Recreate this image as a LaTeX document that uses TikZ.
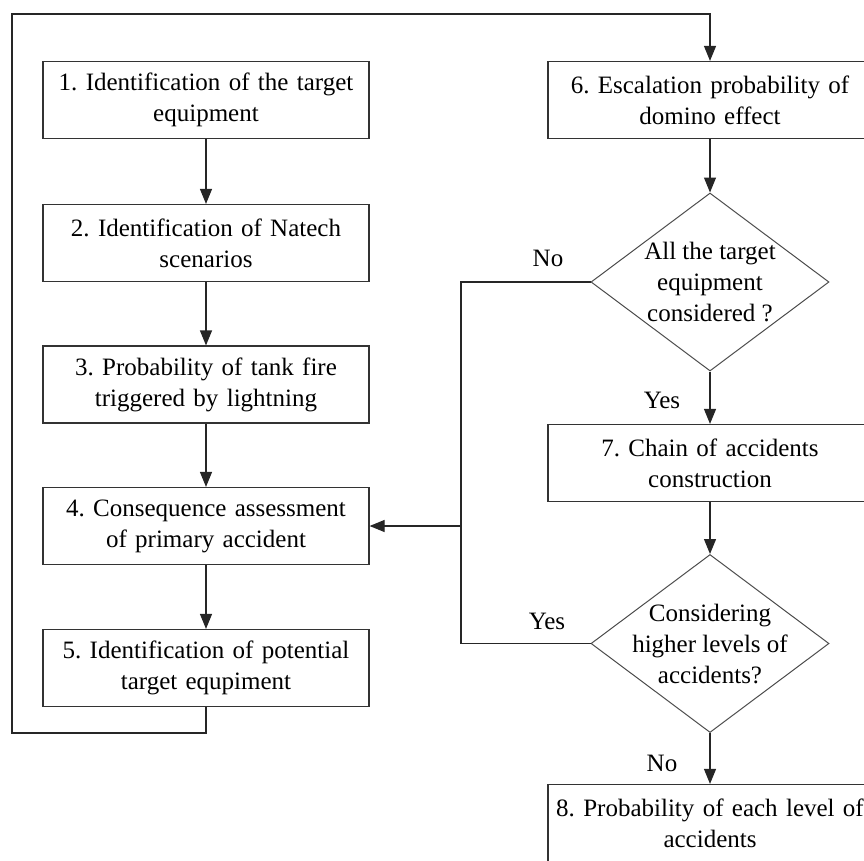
\documentclass[tikz,border=0pt]{standalone}
\usepackage{fontspec}
\setmainfont{Liberation Serif}
\usetikzlibrary{arrows.meta,shapes.geometric}
\frenchspacing
\begin{document}
\begin{tikzpicture}[x=1pt,y=-1pt,
  font=\fontsize{25}{31}\selectfont,
  line width=1.2pt,
  stepbox/.style={draw=black!80, rectangle, minimum width=326pt, minimum height=77pt, inner sep=0pt, text width=322pt, align=center},
  rbox/.style={stepbox, minimum width=324pt},
  decision/.style={draw=black!70, line width=1pt, diamond, minimum width=238pt, minimum height=178pt, inner sep=0pt},
  dtext/.style={align=center, inner sep=0pt},
  conn/.style={draw=black!85},
  arr/.style={conn, -{Triangle[length=15pt,width=12pt]}},
  lbl/.style={inner sep=0pt}]
\useasboundingbox (0,0) rectangle (864,860);
\clip (0,0) rectangle (864,860);

% left column
\node[stepbox] (b1) at (206,100) {1. Identification of the target\\equipment};
\node[stepbox] (b2) at (206,243) {2. Identification of Natech\\scenarios};
\node[stepbox] (b3) at (206,384.5) {3. Probability of tank fire\\triggered by lightning};
\node[stepbox] (b4) at (206,526) {4. Consequence assessment\\of primary accident};
\node[stepbox] (b5) at (206,668) {5. Identification of potential\\target equpiment};

% right column
\node[rbox] (b6) at (710,100) {6. Escalation probability of\\domino effect};
\node[decision] (d1) at (710,282) {};
\node[dtext] (d1t) at (710,282) {All the target\\equipment\\considered ?};
\node[rbox] (b7) at (710,463) {7. Chain of accidents\\construction};
\node[decision] (d2) at (710,643.5) {};
\node[dtext] (d2t) at (710,643.5) {Considering\\higher levels of\\accidents?};
\node[rbox] (b8) at (710,823) {8. Probability of each level of\\accidents};

% helper coordinates
\coordinate (c1) at (12,733);
\coordinate (c2) at (12,14);
\coordinate (j1) at (461,282);
\coordinate (j2) at (461,643.5);
\coordinate (j3) at (461,526);

% connectors
\draw[arr] (b1) -- (b2);
\draw[arr] (b2) -- (b3);
\draw[arr] (b3) -- (b4);
\draw[arr] (b4) -- (b5);
\draw[arr] (b5.south) |- (c1) -- (c2) -| (b6.north);
\draw[arr] (b6) -- (d1.north);
\draw[arr] (d1.south) -- (b7.north);
\draw[arr] (b7) -- (d2.north);
\draw[arr] (d2.south) -- (b8.north);
\draw[conn] (d1.west) -- (j1) -- (j2) -- (d2.west);
\draw[arr] (j3) -- (b4.east);

% labels
\node[lbl] (l1) at (548,258) {No};
\node[lbl] (l2) at (662,400) {Yes};
\node[lbl] (l3) at (547,621) {Yes};
\node[lbl] (l4) at (662,763) {No};
\end{tikzpicture}
\end{document}
